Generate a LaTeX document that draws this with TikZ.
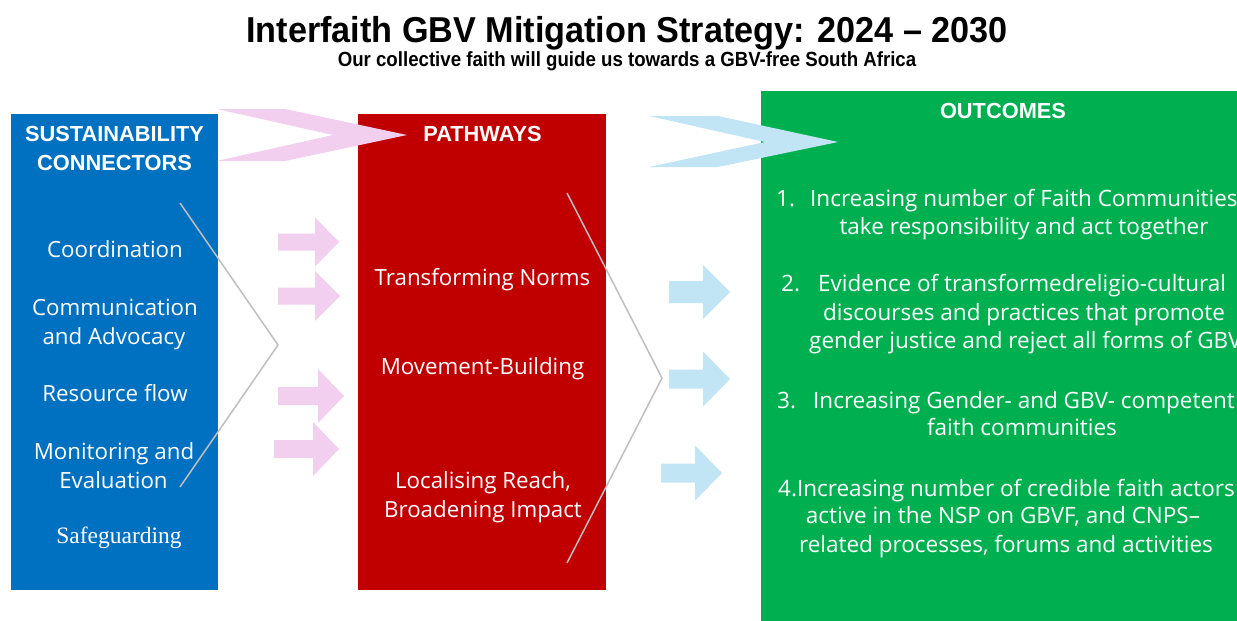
\documentclass[tikz,border=0pt]{standalone}
\usepackage{fontspec}
\setmainfont{Open Sans}
\newfontfamily\hdfont{Liberation Sans}
\newfontfamily\sgfont{Liberation Serif}
\definecolor{boxblue}{HTML}{0070C0}
\definecolor{boxred}{HTML}{C00000}
\definecolor{boxgreen}{HTML}{00B050}
\definecolor{chpink}{HTML}{F2CEEF}
\definecolor{chblue}{HTML}{C1E5F5}
\definecolor{lngray}{HTML}{BFBFBF}
\newcommand{\blockarr}[7]{% color, x0, xn, xt, yc, sh, hh
  \fill[#1] (#2,#5-#6) -- (#3,#5-#6) -- (#3,#5-#7) -- (#4,#5) -- (#3,#5+#7) -- (#3,#5+#6) -- (#2,#5+#6) -- cycle;}
\tikzset{
  txt/.style={text=white, inner sep=0pt, anchor=base, font=\fontsize{22.3}{26}\selectfont},
  gtxt/.style={text=white, inner sep=0pt, anchor=base, font=\fontsize{22.5}{26}\selectfont},
  hdr/.style={text=white, inner sep=0pt, anchor=base, font=\hdfont\bfseries\fontsize{21.8}{26}\selectfont},
  bracket/.style={draw=lngray, line width=1.5pt},
}
\begin{document}
\begin{tikzpicture}[x=1pt,y=-1pt]
\useasboundingbox (0,0) rectangle (1237,621);
\fill[white] (0,0) rectangle (1237,621);
\clip (0,0) rectangle (1237,621);
% title
\node[inner sep=0pt, anchor=base, font=\hdfont\bfseries\fontsize{36}{40}\selectfont] (title) at (627,42) {\scalebox{0.95}[1]{Interfaith GBV Mitigation Strategy: 2024 – 2030}};
\node[inner sep=0pt, anchor=base, font=\hdfont\bfseries\fontsize{20.5}{24}\selectfont] (sub) at (627,66.7) {\scalebox{0.91}[1]{Our collective faith will guide us towards a GBV-free South Africa}};
% boxes
\fill[boxblue] (11,114) rectangle (218,590);
\fill[boxred] (358,114) rectangle (606,590);
\fill[boxgreen] (761,91) rectangle (1237,621);
% chevrons
\fill[chpink] (217,109) -- (285,109) -- (407,135) -- (285,161) -- (217,161) -- (333,135) -- cycle;
\fill[chblue] (649,116) -- (718,116) -- (838,142) -- (718,167) -- (649,167) -- (765,142) -- cycle;
% block arrows
\blockarr{chpink}{278}{315}{339}{242}{8.5}{24.5}
\blockarr{chpink}{278}{315}{340}{296}{8.5}{25}
\blockarr{chpink}{278}{318}{344}{396}{9}{27}
\blockarr{chpink}{274}{313}{339}{449}{9}{27}
\blockarr{chblue}{669}{703}{730}{292}{11}{27}
\blockarr{chblue}{669}{703}{730}{379}{9.5}{27.5}
\blockarr{chblue}{661}{695}{722}{473}{9.5}{27.5}
% bracket lines
\draw[bracket] (180,203) -- (278,345) -- (180,487);
\draw[bracket] (567,193) -- (662,378) -- (567,563);
% left column
\node[hdr] (sus1) at (114.5,141) {SUSTAINABILITY};
\node[hdr] (sus2) at (114.5,170) {CONNECTORS};
\node[txt] (c1) at (115,257) {Coordination};
\node[txt] (c2a) at (115,315) {Communication};
\node[txt] (c2b) at (114,344) {and Advocacy};
\node[txt] (c3) at (115,401) {Resource flow};
\node[txt] (c4a) at (114,459) {Monitoring and};
\node[txt] (c4b) at (113.5,488) {Evaluation};
\node[txt, font=\sgfont\fontsize{23.5}{26}\selectfont] (c5) at (119,543) {Safeguarding};
% middle column
\node[hdr] (pw) at (482.5,141) {PATHWAYS};
\node[txt] (p1) at (482.5,285) {Transforming Norms};
\node[txt] (p2) at (482.5,374) {Movement-Building};
\node[txt] (p3a) at (483,488) {Localising Reach,};
\node[txt] (p3b) at (483,517) {Broadening Impact};
% right column
\node[hdr] (oc) at (1003,118.5) {OUTCOMES};
\node[gtxt, anchor=base west] (o1n) at (776,206) {1.};
\node[gtxt, anchor=base west] (o1a) at (810,206) {Increasing number of Faith Communities};
\node[gtxt] (o1b) at (1024,234) {take responsibility and act together};
\node[gtxt, anchor=base west] (o2n) at (781,291) {2.};
\node[gtxt, anchor=base west] (o2a) at (818,291) {Evidence of transformedreligio-cultural};
\node[gtxt] (o2b) at (1024,320) {discourses and practices that promote};
\node[gtxt, anchor=base west] (o2c) at (809,348) {gender justice and reject all forms of GBV};
\node[gtxt, anchor=base west] (o3n) at (777,408) {3.};
\node[gtxt, anchor=base west] (o3a) at (813,408) {Increasing Gender- and GBV- competent};
\node[gtxt] (o3b) at (1022,435) {faith communities};
\node[gtxt, anchor=base west] (o4a) at (778,496) {4.Increasing number of credible faith actors};
\node[gtxt] (o4b) at (1003,523) {active in the NSP on GBVF, and CNPS–};
\node[gtxt] (o4c) at (1006,552) {related processes, forums and activities};
\end{tikzpicture}
\end{document}
